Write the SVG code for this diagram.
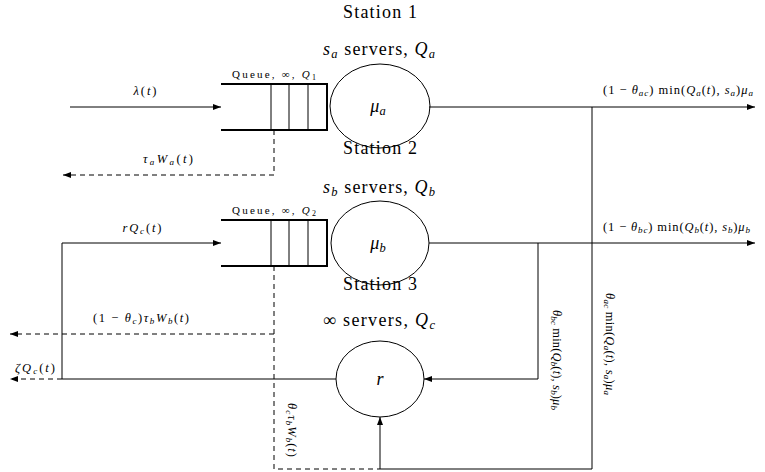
<svg xmlns="http://www.w3.org/2000/svg" width="765" height="472" viewBox="0 0 765 472">
<style>
.t{font-family:"Liberation Serif","Times New Roman",serif;font-size:18px;text-anchor:middle;fill:#000}
.s{font-family:"Liberation Serif","Times New Roman",serif;font-size:12.5px;fill:#000}
.q{font-family:"Liberation Serif","Times New Roman",serif;font-size:11px;text-anchor:middle;fill:#000}
.m{text-anchor:middle}
.i{font-style:italic}
.ln{fill:none;stroke:#000;stroke-width:1}
.ar{fill:none;stroke:#000;stroke-width:1;marker-end:url(#ah)}
.da{fill:none;stroke:#000;stroke-width:1;stroke-dasharray:5 4}
.dar{fill:none;stroke:#000;stroke-width:1;stroke-dasharray:5 4;marker-end:url(#ah)}
.qb{fill:none;stroke:#000;stroke-width:2}
.qd{fill:none;stroke:#000;stroke-width:1}
.c{fill:none;stroke:#000;stroke-width:1}
</style>
<defs>
<marker id="ah" markerWidth="8" markerHeight="6" refX="8" refY="3" orient="auto" markerUnits="userSpaceOnUse">
<path d="M0,0 L8,3 L0,6 Z" fill="#000"/>
</marker>
</defs>

<g id="connectors">
<path class="ar" d="M70,107 H221"/>
<path class="dar" d="M274,130 V175 H63"/>
<path class="ar" d="M429,107 H755"/>
<path class="ln" d="M592,107 V469 H380"/>
<path class="ar" d="M380,469 V417"/>
<path class="da" d="M274,266 V469 H380"/>
<path class="dar" d="M274,334 H10"/>
<path class="ar" d="M62,379 V243 H221"/>
<path class="ln" d="M336,379 H62"/>
<path class="dar" d="M62,379 H10"/>
<path class="ar" d="M429,243 H755"/>
<path class="ar" d="M538,243 V379 H424"/>
</g>

<g id="station1">
<text class="t" x="380" y="18" textLength="74">Station 1</text>
<text class="t" x="379" y="55" textLength="112"><tspan class="i">s</tspan><tspan font-size="12.5" dy="3" class="i">a</tspan><tspan dy="-3"> servers, </tspan><tspan class="i">Q</tspan><tspan font-size="12.5" dy="3" class="i">a</tspan></text>
<ellipse class="c" cx="380" cy="106" rx="50" ry="42"/>
<text class="t" x="378" y="112"><tspan class="i">μ</tspan><tspan font-size="12.5" dy="3" class="i">a</tspan></text>
</g>

<g id="queue1">
<path class="qb" d="M221,84 H327 V130 H221"/>
<path class="qd" d="M271,84 V130 M289,84 V130 M308,84 V130"/>
<text class="q" x="274" y="78" textLength="84">Queue, ∞, <tspan class="i">Q</tspan><tspan font-size="8" dy="2">1</tspan></text>
</g>

<g id="station2">
<text class="t" x="380" y="154" textLength="74">Station 2</text>
<text class="t" x="379" y="193" textLength="112"><tspan class="i">s</tspan><tspan font-size="12.5" dy="3" class="i">b</tspan><tspan dy="-3"> servers, </tspan><tspan class="i">Q</tspan><tspan font-size="12.5" dy="3" class="i">b</tspan></text>
<ellipse class="c" cx="380" cy="243" rx="49" ry="42"/>
<text class="t" x="378" y="249"><tspan class="i">μ</tspan><tspan font-size="12.5" dy="3" class="i">b</tspan></text>
</g>

<g id="queue2">
<path class="qb" d="M221,220 H327 V266 H221"/>
<path class="qd" d="M271,220 V266 M289,220 V266 M308,220 V266"/>
<text class="q" x="274" y="214" textLength="84">Queue, ∞, <tspan class="i">Q</tspan><tspan font-size="8" dy="2">2</tspan></text>
</g>

<g id="station3">
<text class="t" x="380" y="290" textLength="74">Station 3</text>
<text class="t" x="379" y="326" textLength="112">∞ servers, <tspan class="i">Q</tspan><tspan font-size="12.5" dy="3" class="i">c</tspan></text>
<ellipse class="c" cx="380" cy="379" rx="44" ry="38"/>
<text class="t i" x="380" y="385">r</text>
</g>

<g id="labels">
<text class="s m" x="145" y="95" textLength="23"><tspan class="i">λ</tspan>(<tspan class="i">t</tspan>)</text>
<text class="s m" x="168" y="163" textLength="50"><tspan class="i">τ</tspan><tspan font-size="9" dy="2" class="i">a</tspan><tspan dy="-2" class="i">W</tspan><tspan font-size="9" dy="2" class="i">a</tspan><tspan dy="-2">(</tspan><tspan class="i">t</tspan>)</text>
<text class="s m" x="142" y="232" textLength="39"><tspan class="i">rQ</tspan><tspan font-size="9" dy="2" class="i">c</tspan><tspan dy="-2">(</tspan><tspan class="i">t</tspan>)</text>
<text class="s m" x="141" y="322" textLength="96">(1 − <tspan class="i">θ</tspan><tspan font-size="9" dy="2" class="i">c</tspan><tspan dy="-2">)</tspan><tspan class="i">τ</tspan><tspan font-size="9" dy="2" class="i">b</tspan><tspan dy="-2" class="i">W</tspan><tspan font-size="9" dy="2" class="i">b</tspan><tspan dy="-2">(</tspan><tspan class="i">t</tspan>)</text>
<text class="s" x="15" y="372" textLength="40"><tspan class="i">ζQ</tspan><tspan font-size="9" dy="2" class="i">c</tspan><tspan dy="-2">(</tspan><tspan class="i">t</tspan>)</text>
<text class="s" x="603" y="94" textLength="150">(1 − <tspan class="i">θ</tspan><tspan font-size="9" dy="2" class="i">ac</tspan><tspan dy="-2">) min(</tspan><tspan class="i">Q</tspan><tspan font-size="9" dy="2" class="i">a</tspan><tspan dy="-2">(</tspan><tspan class="i">t</tspan>), <tspan class="i">s</tspan><tspan font-size="9" dy="2" class="i">a</tspan><tspan dy="-2">)</tspan><tspan class="i">μ</tspan><tspan font-size="9" dy="2" class="i">a</tspan></text>
<text class="s" x="603" y="231" textLength="147">(1 − <tspan class="i">θ</tspan><tspan font-size="9" dy="2" class="i">bc</tspan><tspan dy="-2">) min(</tspan><tspan class="i">Q</tspan><tspan font-size="9" dy="2" class="i">b</tspan><tspan dy="-2">(</tspan><tspan class="i">t</tspan>), <tspan class="i">s</tspan><tspan font-size="9" dy="2" class="i">b</tspan><tspan dy="-2">)</tspan><tspan class="i">μ</tspan><tspan font-size="9" dy="2" class="i">b</tspan></text>
<text class="s" transform="translate(553,310) rotate(90)" textLength="100"><tspan class="i">θ</tspan><tspan font-size="9" dy="2" class="i">bc</tspan><tspan dy="-2"> min(</tspan><tspan class="i">Q</tspan><tspan font-size="9" dy="2" class="i">b</tspan><tspan dy="-2">(</tspan><tspan class="i">t</tspan>), <tspan class="i">s</tspan><tspan font-size="9" dy="2" class="i">b</tspan><tspan dy="-2">)</tspan><tspan class="i">μ</tspan><tspan font-size="9" dy="2" class="i">b</tspan></text>
<text class="s" transform="translate(606,293) rotate(90)" textLength="102"><tspan class="i">θ</tspan><tspan font-size="9" dy="2" class="i">ac</tspan><tspan dy="-2"> min(</tspan><tspan class="i">Q</tspan><tspan font-size="9" dy="2" class="i">a</tspan><tspan dy="-2">(</tspan><tspan class="i">t</tspan>), <tspan class="i">s</tspan><tspan font-size="9" dy="2" class="i">a</tspan><tspan dy="-2">)</tspan><tspan class="i">μ</tspan><tspan font-size="9" dy="2" class="i">a</tspan></text>
<text class="s" transform="translate(288,403) rotate(90)" textLength="54"><tspan class="i">θ</tspan><tspan font-size="9" dy="2" class="i">c</tspan><tspan dy="-2" class="i">τ</tspan><tspan font-size="9" dy="2" class="i">b</tspan><tspan dy="-2" class="i">W</tspan><tspan font-size="9" dy="2" class="i">b</tspan><tspan dy="-2">(</tspan><tspan class="i">t</tspan>)</text>
</g>
</svg>
